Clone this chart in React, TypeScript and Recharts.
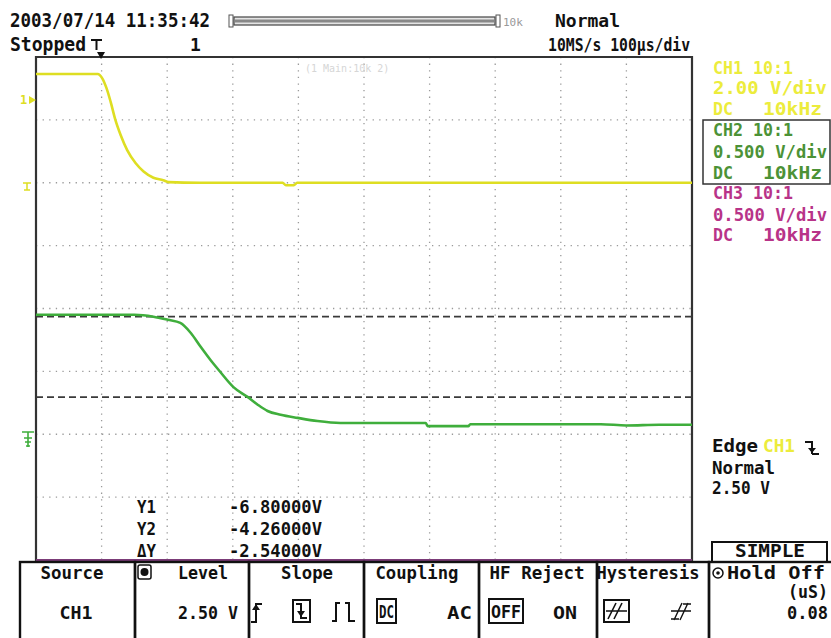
import React from 'react'
import { LineChart, Line, XAxis, YAxis, CartesianGrid, ReferenceLine, ReferenceArea } from 'recharts'

// time in µs from the trigger point, amplitude in screen divisions
const ch1Time = [-100, -60, -6, 1, 7.6, 13.7, 21, 29, 39, 52, 64, 79, 94, 102, 150, 276, 281, 293, 298, 400, 600, 900]
const ch1Div = [3.73, 3.73, 3.73, 3.66, 3.5, 3.29, 3.0, 2.76, 2.52, 2.31, 2.18, 2.08, 2.04, 2.01, 2.0, 2.0, 1.96, 1.96, 2.0, 2.0, 2.0, 2.0]
const ch2Time = [-100, 0, 50, 79, 101, 120, 136, 151, 166, 181, 201, 223, 238, 253, 273, 299, 329, 364, 494, 497, 559, 562, 761, 800, 850, 900]
const ch2Div = [-0.1, -0.1, -0.1, -0.13, -0.18, -0.23, -0.39, -0.61, -0.82, -1.01, -1.25, -1.41, -1.53, -1.63, -1.69, -1.74, -1.79, -1.82, -1.82, -1.87, -1.87, -1.84, -1.84, -1.86, -1.85, -1.85]

const timeTicks = [-100, 0, 100, 200, 300, 400, 500, 600, 700, 800, 900]
const divTicks = [-4, -3, -2, -1, 0, 1, 2, 3, 4]
const cursorDiv = [-0.13, -1.41]

const cursorNames = ['Y1', 'Y2', 'ΔY']
const cursorValues = ['-6.80000V', '-4.26000V', '-2.54000V']

const channelRows = [
  ['CH1 10:1', '2.00 V/div', '10kHz'],
  ['CH2 10:1', '0.500 V/div', '10kHz'],
  ['CH3 10:1', '0.500 V/div', '10kHz'],
]
const menuTitles = ['Source', 'Level', 'Slope', 'Coupling', 'HF Reject', 'Hysteresis', 'Hold Off']

const ch1Data = ch1Time.map((t, i) => ({ t, v: ch1Div[i] }))
const ch2Data = ch2Time.map((t, i) => ({ t, v: ch2Div[i] }))

const FONT = '"DejaVu Sans Mono", monospace'
const YEL = '#dede22'
const YEL_TXT = '#ecec3c'
const GRN = '#3fae3c'
const GRN_TXT = '#4c9236'
const MAG = '#b83388'

function Txt({ x, y, w, fill = '#111', size = 18, anchor = 'start', children }: any) {
  return (
    <text x={x} y={y} fill={fill} fontSize={size} fontFamily={FONT} fontWeight="bold" textAnchor={anchor}
      textLength={w} lengthAdjust={w ? 'spacingAndGlyphs' : undefined}>
      {children}
    </text>
  )
}

const menuEdges = [20, 135, 249, 364, 479, 597, 709, 833]
const menuTitleX = [72, 203, 307, 417, 537, 648, 776]
const menuTitleW = [63, 50, 52, 83, 95, 103, 98]
const chRowY = [[74, 94, 115], [136, 158, 179], [199, 221, 241]]
const chColors = [YEL_TXT, GRN_TXT, MAG]
const cursorRowY = [513, 535, 557]

function Overlay() {
  return (
    <svg width={831} height={638} style={{ position: 'absolute', left: 0, top: 0, pointerEvents: 'none' }}>
      {/* header */}
      <Txt x={10} y={27} w={200} size={19}>2003/07/14 11:35:42</Txt>
      <Txt x={10} y={51} w={76} size={19}>Stopped</Txt>
      <path d="M91 40 H102 M96.5 40 V50" stroke="#111" strokeWidth={2} fill="none" />
      <polygon points="97,52 105,52 101,59" fill="#111" />
      <Txt x={190} y={51} size={18}>1</Txt>
      <rect x={229} y={15} width={4} height={12} fill="none" stroke="#555" strokeWidth={1} />
      <rect x={234} y={17} width={261} height={8} fill="#e4e4e4" stroke="#444" strokeWidth={1.2} />
      <rect x={235} y={19.5} width={259} height={3} fill="#888" />
      <rect x={496} y={15} width={4} height={12} fill="none" stroke="#555" strokeWidth={1} />
      <text x={503} y={26} fill="#999" fontSize={11} fontFamily={FONT}>10k</text>
      <Txt x={555} y={27} w={65} size={18}>Normal</Txt>
      <Txt x={548} y={51} w={142} size={18}>10MS/s 100µs/div</Txt>
      <text x={305} y={72} fill="#d6d6d6" fontSize={10} fontFamily={FONT}>(1 Main:10k 2)</text>

      {/* left markers */}
      <text x={20} y={104} fill={YEL} fontSize={12} fontFamily={FONT} fontWeight="bold">1</text>
      <polygon points="29,96 36,100 29,104" fill={YEL} />
      <path d="M23 183 H31 M27 183 V190 M24 190 H30" stroke={YEL} strokeWidth={1.5} fill="none" />
      <path d="M22 432 H34 M28 432 V447 M24 438 H32 M25 442 H31 M26 446 H30" stroke={GRN} strokeWidth={1.6} fill="none" />

      {/* channel info */}
      <rect x={703} y={120} width={127} height={64} fill="none" stroke="#333" strokeWidth={1.5} />
      {channelRows.map((row, i) => (
        <g key={row[0]}>
          <Txt x={713} y={chRowY[i][0]} w={80} fill={chColors[i]}>{row[0]}</Txt>
          <Txt x={713} y={chRowY[i][1]} w={114} fill={chColors[i]}>{row[1]}</Txt>
          <Txt x={713} y={chRowY[i][2]} w={20} fill={chColors[i]}>DC</Txt>
          <Txt x={763} y={chRowY[i][2]} w={59} fill={chColors[i]}>{row[2]}</Txt>
        </g>
      ))}

      {/* trigger info */}
      <Txt x={712} y={452} w={46}>Edge</Txt>
      <Txt x={763} y={452} w={32} fill={YEL_TXT}>CH1</Txt>
      <path d="M805 442 H812 V454 M812 454 H819" stroke="#111" strokeWidth={2} fill="none" />
      <polygon points="808,448 816,448 812,453" fill="#111" />
      <Txt x={712} y={474} w={63}>Normal</Txt>
      <Txt x={712} y={494} w={58}>2.50 V</Txt>
      <path d="M712 561 V542 H827 V561" stroke="#111" strokeWidth={2} fill="none" />
      <Txt x={770} y={557} w={70} anchor="middle">SIMPLE</Txt>

      {/* cursor readout */}
      {cursorNames.map((n, i) => (
        <g key={n}>
          <Txt x={137} y={cursorRowY[i]} w={19}>{n}</Txt>
          <Txt x={229} y={cursorRowY[i]} w={93}>{cursorValues[i]}</Txt>
        </g>
      ))}

      {/* soft-key menu */}
      <rect x={20} y={562} width={813} height={80} fill="#fff" />
      {menuEdges.slice(0, -1).map((x0, i) => (
        <rect key={x0} x={x0} y={562} width={menuEdges[i + 1] - x0} height={80} fill="none" stroke="#111" strokeWidth={2.4} />
      ))}
      {menuTitles.map((m, i) => (
        <Txt key={m} x={menuTitleX[i]} y={579} w={menuTitleW[i]} anchor="middle">{m}</Txt>
      ))}
      <rect x={138} y={565} width={13} height={14} rx={2} fill="#fff" stroke="#111" strokeWidth={1.5} />
      <circle cx={144.5} cy={572} r={4} fill="#111" />
      <circle cx={718} cy={573} r={5} fill="none" stroke="#111" strokeWidth={1.5} />
      <circle cx={718} cy={573} r={1.8} fill="#111" />

      <Txt x={76} y={619} w={33} anchor="middle">CH1</Txt>
      <Txt x={238} y={619} w={60} anchor="end">2.50 V</Txt>

      <path d="M251 622 H256 V604 H262" stroke="#111" strokeWidth={2} fill="none" />
      <polygon points="252,610 260,610 256,604" fill="#111" />
      <rect x={293} y={600} width={17} height={22} fill="none" stroke="#111" strokeWidth={2} />
      <path d="M296 604 H301 V618 H307" stroke="#111" strokeWidth={2} fill="none" />
      <polygon points="297,611 305,611 301,617" fill="#111" />
      <path d="M332 621 H336 V603 H340 M345 603 H349 V621 H355" stroke="#111" strokeWidth={2} fill="none" />

      <rect x={377} y={599} width={19} height={24} fill="none" stroke="#111" strokeWidth={2} />
      <Txt x={379} y={618} w={15}>DC</Txt>
      <Txt x={447} y={619} w={25}>AC</Txt>
      <rect x={489} y={599} width={34} height={24} fill="none" stroke="#111" strokeWidth={2} />
      <Txt x={491} y={618} w={30}>OFF</Txt>
      <Txt x={553} y={619} w={24}>ON</Txt>

      <rect x={604} y={600} width={25} height={22} fill="none" stroke="#111" strokeWidth={2} />
      <path d="M606 611 H627 M608 619 L616 603 M614 619 L622 603" stroke="#111" strokeWidth={1.6} fill="none" />
      <path d="M671 611 H691 M674 620 L682 603 M680 620 L688 603 M671 619 H679 M683 604 H691" stroke="#111" strokeWidth={1.4} fill="none" />

      <Txt x={828} y={598} w={40} anchor="end">(uS)</Txt>
      <Txt x={828} y={619} w={41} anchor="end">0.08</Txt>
    </svg>
  )
}

export default function App() {
  return (
    <div style={{ position: 'absolute', left: 0, top: 0, width: 831, height: 638, background: '#fff', overflow: 'hidden' }}>
      <LineChart width={831} height={638} margin={{ top: 57, right: 139, bottom: 78, left: 36 }}>
        <XAxis type="number" dataKey="t" domain={[-100, 900]} ticks={timeTicks} hide allowDuplicatedCategory={false} />
        <YAxis type="number" domain={[-4, 4]} ticks={divTicks} hide />
        <CartesianGrid stroke="#9a9a9a" strokeWidth={1.3} strokeDasharray="1.3 5.3" />
        {cursorDiv.map((y) => (
          <ReferenceLine key={y} y={y} stroke="#3a3a3a" strokeWidth={1.6} strokeDasharray="7 4" />
        ))}
        <ReferenceLine y={-4} stroke="#7b3b78" strokeWidth={2} />
        <ReferenceArea x1={-100} x2={900} y1={-4} y2={4} fill="none" stroke="#333" strokeWidth={2.2} />
        <Line data={ch1Data} dataKey="v" type="monotone" stroke={YEL} strokeWidth={2.6} dot={false} isAnimationActive={false} />
        <Line data={ch2Data} dataKey="v" type="monotone" stroke={GRN} strokeWidth={2.6} dot={false} isAnimationActive={false} />
      </LineChart>
      <Overlay />
    </div>
  )
}
